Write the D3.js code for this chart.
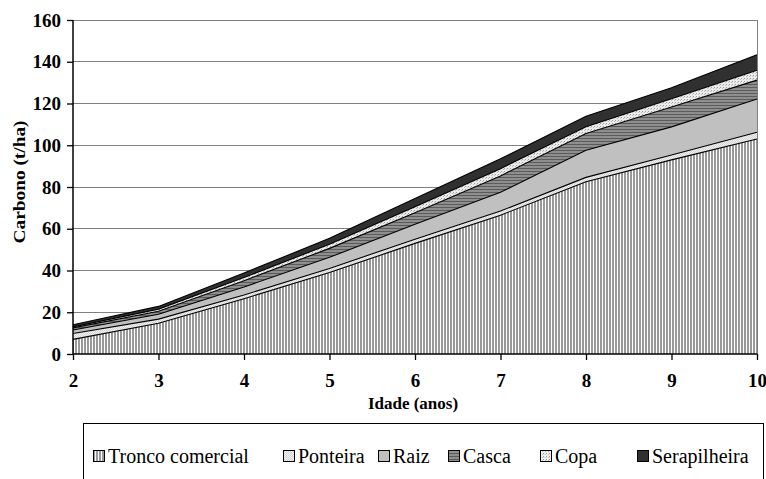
<!DOCTYPE html>
<html><head><meta charset="utf-8">
<script src="https://cdn.jsdelivr.net/npm/d3@7"></script>
<style>html,body{margin:0;padding:0;background:#fff;}svg{display:block;}</style>
</head><body>
<svg id="c" width="766" height="479"></svg>
<script>
const ages = [2, 3, 4, 5, 6, 7, 8, 9, 10];
const seriesNames = ["Tronco comercial", "Ponteira", "Raiz", "Casca", "Copa", "Serapilheira"];
const tronco   = [7.0, 14.7, 26.5, 39.0, 53.0, 66.5, 82.5, 93.0, 103.0];
const ponteira = [2.8, 2.0, 1.8, 2.0, 2.0, 2.0, 2.1, 2.3, 3.2];
const raiz     = [1.7, 2.3, 3.8, 5.3, 7.2, 9.0, 13.0, 13.5, 16.0];
const casca    = [1.0, 1.5, 3.0, 4.3, 5.5, 7.8, 8.0, 9.5, 9.0];
const copa     = [0.5, 1.0, 1.5, 2.0, 2.8, 3.5, 3.3, 4.0, 4.7];
const serap    = [1.0, 1.3, 2.2, 2.8, 4.0, 4.7, 5.0, 5.2, 7.5];
const yTicks = [0, 20, 40, 60, 80, 100, 120, 140, 160];

(function () {
const svg = d3.select("#c");
const pL = 73, pR = 757, pT0 = 20, pB = 354;
const x = d3.scaleLinear().domain([2, 10]).range([pL, pR]);
const y = d3.scaleLinear().domain([0, 160]).range([pB, pT0]);

const defs = svg.append("defs");
const pT = defs.append("pattern").attr("id","pTronco").attr("patternUnits","userSpaceOnUse").attr("width",3).attr("height",4);
pT.append("rect").attr("width",3).attr("height",4).attr("fill","#fff");
pT.append("rect").attr("x",0).attr("width",2).attr("height",4).attr("fill","#999");

const pP = defs.append("pattern").attr("id","pPonteira").attr("patternUnits","userSpaceOnUse").attr("width",2).attr("height",2);
pP.append("rect").attr("width",2).attr("height",2).attr("fill","#f2f2f2");
pP.append("rect").attr("x",0).attr("y",0).attr("width",1).attr("height",1).attr("fill","#d4d4d4");
pP.append("rect").attr("x",1).attr("y",1).attr("width",1).attr("height",1).attr("fill","#d4d4d4");

const pC = defs.append("pattern").attr("id","pCasca").attr("patternUnits","userSpaceOnUse").attr("width",4).attr("height",3);
pC.append("rect").attr("width",4).attr("height",3).attr("fill","#8e8e8e");
pC.append("rect").attr("y",0).attr("width",4).attr("height",1).attr("fill","#5c5c5c");

const pCo = defs.append("pattern").attr("id","pCopa").attr("patternUnits","userSpaceOnUse").attr("width",3).attr("height",3);
pCo.append("rect").attr("width",3).attr("height",3).attr("fill","#ececec");
pCo.append("rect").attr("x",0).attr("y",0).attr("width",1).attr("height",1).attr("fill","#9a9a9a");
pCo.append("rect").attr("x",2).attr("y",1).attr("width",1).attr("height",1).attr("fill","#bdbdbd");

const fills = ["url(#pTronco)", "url(#pPonteira)", "#c0c0c0", "url(#pCasca)", "url(#pCopa)", "#303030"];

svg.append("g").selectAll("line").data(yTicks.filter(d => d > 0)).join("line")
  .attr("x1", pL).attr("x2", pR).attr("y1", d => y(d)).attr("y2", d => y(d))
  .attr("stroke", "#808080").attr("stroke-width", 1).attr("shape-rendering","crispEdges");
svg.append("line").attr("x1", pR).attr("x2", pR).attr("y1", pT0).attr("y2", pB)
  .attr("stroke", "#808080").attr("stroke-width", 1).attr("shape-rendering","crispEdges");

const rows = ages.map((a, i) => ({age: a, s0: tronco[i], s1: ponteira[i], s2: raiz[i], s3: casca[i], s4: copa[i], s5: serap[i]}));
const stack = d3.stack().keys(["s0","s1","s2","s3","s4","s5"])(rows);
const area = d3.area().x(d => x(d.data.age)).y0(d => y(d[0])).y1(d => y(d[1]));
const line = d3.line().x(d => x(d.data.age)).y(d => y(d[1]));
svg.append("g").selectAll("path").data(stack).join("path")
  .attr("d", area).attr("fill", (d, i) => fills[i]);
svg.append("g").selectAll("path").data(stack).join("path")
  .attr("d", line).attr("fill", "none").attr("stroke", "#000").attr("stroke-width", 1.1);

const yAxis = d3.axisLeft(y).tickValues(yTicks).tickSize(6).tickPadding(6);
const gy = svg.append("g").attr("transform", `translate(${pL},0)`).call(yAxis);
const xAxis = d3.axisBottom(x).tickValues(ages).tickSize(6).tickPadding(14);
const gx = svg.append("g").attr("transform", `translate(0,${pB})`).call(xAxis);
[gx, gy].forEach(g => {
  g.select(".domain").attr("stroke", "#000").attr("stroke-width", 1.5);
  g.selectAll(".tick line").attr("stroke", "#000").attr("stroke-width", 1.3);
  g.selectAll("text").attr("font-family", "'Liberation Serif', 'Times New Roman', serif")
    .attr("font-weight", "bold").attr("font-size", 19).attr("fill", "#000");
});
gx.select(".domain").attr("d", `M${pL},0H${pR}`);
gy.select(".domain").attr("d", `M0,${pB}V${pT0}`);

svg.append("text").attr("x", 413).attr("y", 409).attr("text-anchor","middle")
  .attr("font-family","'Liberation Serif', serif").attr("font-weight","bold").attr("font-size",17)
  .text("Idade (anos)");
svg.append("text").attr("transform", "translate(25,182) rotate(-90)").attr("text-anchor","middle")
  .attr("font-family","'Liberation Serif', serif").attr("font-weight","bold").attr("font-size",17)
  .attr("textLength", 123).attr("lengthAdjust","spacingAndGlyphs")
  .text("Carbono (t/ha)");

svg.append("rect").attr("x", 83.5).attr("y", 423.5).attr("width", 680).attr("height", 80)
  .attr("fill", "#fff").attr("stroke", "#000").attr("stroke-width", 1);
const legX = [93, 283, 378, 448, 540, 637];
const lg = svg.append("g").selectAll("g").data(seriesNames).join("g")
  .attr("transform", (d, i) => `translate(${legX[i]},450)`);
lg.append("rect").attr("x", 0.5).attr("y", 0.5).attr("width", 11).attr("height", 11)
  .attr("fill", (d, i) => fills[i]).attr("stroke", "#000").attr("stroke-width", 1);
lg.append("text").attr("x", 15).attr("y", 12.5).attr("font-family","'Liberation Serif', serif")
  .attr("font-size", 20).attr("fill","#000").text(d => d);
})();
</script>
</body></html>
